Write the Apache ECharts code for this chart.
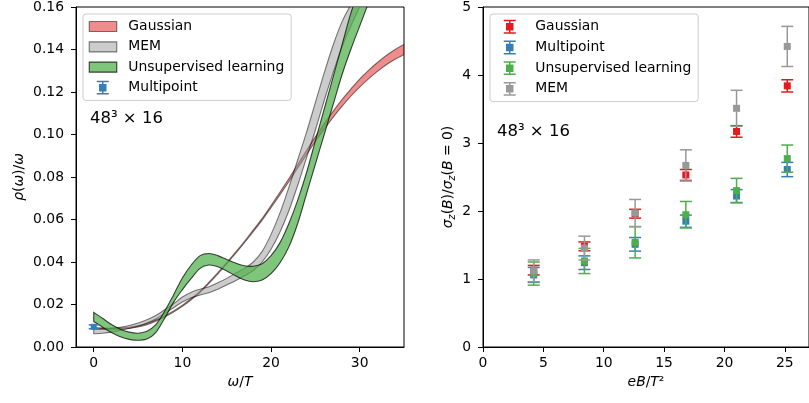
<!DOCTYPE html>
<html><head><meta charset="utf-8">
<script src="https://cdn.jsdelivr.net/npm/echarts@6/dist/echarts.min.js"></script>
<style>html,body{margin:0;padding:0;background:#fff}#c{width:809px;height:403px}</style>
</head><body><div id="c"></div>
<script>
// ---------- Left panel data: spectral function bands ----------
const omega = [0,1,2,3,4,5,6,7,8,9,10,11,12,13,14,15,16,17,18,19,20,21,22,23,24,25,26,27,28,29,30,31,32,33,34,35];
const gaussLo = [0.0085,0.0084,0.0083,0.0084,0.0087,0.0094,0.0105,0.0121,0.0141,0.0164,0.0191,0.0222,0.0257,0.0299,0.0344,0.0391,0.0440,0.0491,0.0543,0.0597,0.0656,0.0716,0.0778,0.0842,0.0905,0.0967,0.1025,0.1081,0.1132,0.1180,0.1223,0.1262,0.1297,0.1328,0.1354,0.1376];
const gaussHi = [0.0091,0.0090,0.0089,0.0090,0.0093,0.0100,0.0111,0.0127,0.0147,0.0170,0.0197,0.0228,0.0263,0.0305,0.0350,0.0397,0.0446,0.0497,0.0551,0.0605,0.0666,0.0728,0.0792,0.0858,0.0925,0.0989,0.1051,0.1109,0.1164,0.1214,0.1261,0.1302,0.1339,0.1372,0.1400,0.1424];
const memLo = [0.0062,0.0065,0.0070,0.0078,0.0088,0.0099,0.0113,0.0132,0.0158,0.0185,0.0212,0.0232,0.0245,0.0255,0.0272,0.0292,0.0312,0.0335,0.0360,0.0400,0.0460,0.0540,0.0640,0.0760,0.0890,0.1020,0.1160,0.1290,0.1410,0.1510,0.1600,0.1680,0.1760,0.1840,0.1920,0.2000];
const memHi = [0.0085,0.0085,0.0088,0.0093,0.0101,0.0113,0.0128,0.0148,0.0175,0.0203,0.0235,0.0258,0.0272,0.0284,0.0302,0.0323,0.0347,0.0370,0.0400,0.0450,0.0530,0.0630,0.0750,0.0880,0.1010,0.1150,0.1290,0.1420,0.1530,0.1610,0.1690,0.1770,0.1850,0.1930,0.2010,0.2090];
const unsupLo = [0.0120,0.0093,0.0068,0.0048,0.0036,0.0032,0.0038,0.0068,0.0135,0.0210,0.0270,0.0323,0.0370,0.0386,0.0378,0.0358,0.0335,0.0315,0.0307,0.0315,0.0345,0.0395,0.0470,0.0580,0.0720,0.0860,0.1000,0.1140,0.1280,0.1400,0.1510,0.1620,0.1730,0.1840,0.1950,0.2060];
const unsupHi = [0.0163,0.0135,0.0106,0.0084,0.0070,0.0065,0.0074,0.0105,0.0168,0.0245,0.0325,0.0386,0.0430,0.0440,0.0430,0.0412,0.0395,0.0382,0.0380,0.0392,0.0430,0.0490,0.0580,0.0690,0.0820,0.0970,0.1120,0.1270,0.1420,0.1570,0.1690,0.1800,0.1910,0.2020,0.2130,0.2240];
const multiOmega = [0];
const multiRho = [0.0095];
const multiRhoErr = [0.0009];
const leftXTicks = [0, 10, 20, 30];

// ---------- Right panel data: sigma_z(B)/sigma_z(0) ----------
const eBT2 = [4.2, 8.4, 12.6, 16.8, 21.0, 25.2];
const gaussSig = [1.13, 1.48, 1.96, 2.53, 3.17, 3.84];
const gaussErr = [0.07, 0.065, 0.065, 0.08, 0.085, 0.09];
const multiSig = [1.06, 1.24, 1.51, 1.85, 2.22, 2.61];
const multiErr = [0.11, 0.10, 0.10, 0.09, 0.095, 0.105];
const unsupSig = [1.08, 1.265, 1.54, 1.945, 2.30, 2.77];
const unsupErr = [0.17, 0.185, 0.23, 0.195, 0.18, 0.20];
const memSig = [1.12, 1.455, 1.97, 2.67, 3.51, 4.42];
const memErr = [0.16, 0.175, 0.20, 0.23, 0.265, 0.295];
const rightXTicks = [0, 5, 10, 15, 20, 25];

// ---------- styling ----------
const FONT = 'DejaVu Sans';
const FS = 13.9;
const RED = '#e41a1c', BLUE = '#377eb8', GREEN = '#4daf4a', GREY = '#999999';

const chart = echarts.init(document.getElementById('c'), null, {renderer: 'canvas'});

function errRender(color, capW, msize) {
  return function (params, api) {
    const x = api.value(0), y = api.value(1), e = api.value(2);
    const c = api.coord([x, y]);
    const t = api.coord([x, y + e]);
    const b = api.coord([x, y - e]);
    const h = capW / 2;
    const st = {stroke: color, lineWidth: 1.5};
    return {type: 'group', children: [
      {type: 'line', shape: {x1: c[0], y1: t[1], x2: c[0], y2: b[1]}, style: st},
      {type: 'line', shape: {x1: c[0] - h, y1: t[1], x2: c[0] + h, y2: t[1]}, style: st},
      {type: 'line', shape: {x1: c[0] - h, y1: b[1], x2: c[0] + h, y2: b[1]}, style: st},
      {type: 'rect', shape: {x: c[0] - msize / 2, y: c[1] - msize / 2, width: msize, height: msize}, style: {fill: color}}
    ]};
  };
}

function errSeries(name, xs, ys, es, color, xi, z, capW, msize) {
  return {
    type: 'custom', name: name, xAxisIndex: xi, yAxisIndex: xi, z: z,
    renderItem: errRender(color, capW, msize),
    encode: {x: 0, y: 1},
    data: xs.map((x, i) => [x, ys[i], es[i]]),
    silent: true
  };
}

// Catmull-Rom spline through pixel points (converted to cubic Bezier commands)
function curveCmds(p) {
  let d = '';
  const n = p.length;
  for (let i = 0; i < n - 1; i++) {
    const p0 = p[Math.max(i - 1, 0)], p1 = p[i], p2 = p[i + 1], p3 = p[Math.min(i + 2, n - 1)];
    const c1x = p1[0] + (p2[0] - p0[0]) / 6, c1y = p1[1] + (p2[1] - p0[1]) / 6;
    const c2x = p2[0] - (p3[0] - p1[0]) / 6, c2y = p2[1] - (p3[1] - p1[1]) / 6;
    d += ' C' + c1x.toFixed(2) + ',' + c1y.toFixed(2) + ' ' + c2x.toFixed(2) + ',' + c2y.toFixed(2) + ' ' + p2[0].toFixed(2) + ',' + p2[1].toFixed(2);
  }
  return d;
}

function bandSeries(name, lo, hi, fill, edge, z) {
  return {
    type: 'custom', name: name, xAxisIndex: 0, yAxisIndex: 0, z: z, clip: true, silent: true,
    encode: {x: 0, y: [1, 2]},
    data: omega.map((w, i) => [w, lo[i], hi[i]]),
    renderItem: function (params, api) {
      if (params.dataIndex !== 0) return null;
      const up = omega.map((w, i) => api.coord([w, hi[i]]));
      const dn = omega.map((w, i) => api.coord([w, lo[i]])).reverse();
      const d = 'M' + up[0][0].toFixed(2) + ',' + up[0][1].toFixed(2) + curveCmds(up) +
        ' L' + dn[0][0].toFixed(2) + ',' + dn[0][1].toFixed(2) + curveCmds(dn) + ' Z';
      return {type: 'path', shape: {pathData: d}, style: {fill: fill, stroke: edge, lineWidth: 1.1}};
    }
  };
}

// legend icons: invisible corner points set the icon box to 34.6 x 14
const rectIcon = 'path://M0,0 L0,0 M34.6,14 L34.6,14 M0.5,2 L28,2 L28,12 L0.5,12 Z';
const errIcon = 'path://M0,0 L0,0 M34.6,14 L34.6,14 M8,0.8 L20,0.8 M14,0.8 L14,13.2 M8,13.2 L20,13.2 M11,4 L17,4 L17,10 L11,10 Z';

function legendBase(left) {
  return {
    left: left, top: 14, orient: 'vertical',
    itemWidth: 34.6, itemHeight: 14, itemGap: 5.2,
    symbolKeepAspect: false,
    padding: [5, 7, 5, 5],
    backgroundColor: 'rgba(255,255,255,0.8)',
    borderColor: '#cccccc', borderWidth: 1, borderRadius: 3,
    selectedMode: false,
    textStyle: {fontFamily: FONT, fontSize: FS, color: '#000'}
  };
}

const axisCommon = {
  axisLine: {show: true, onZero: false, lineStyle: {color: '#000', width: 1}},
  axisTick: {show: true, length: 5, lineStyle: {color: '#000', width: 1}},
  splitLine: {show: false},
  axisLabel: {fontFamily: FONT, fontSize: FS, color: '#000'},
  nameTextStyle: {fontFamily: FONT, fontSize: FS, color: '#000'}
};

const richName = {
  i: {fontFamily: FONT, fontSize: FS, fontStyle: 'italic', color: '#000'},
  n: {fontFamily: FONT, fontSize: FS, color: '#000'},
  s: {fontFamily: FONT, fontSize: 9.7, fontStyle: 'italic', color: '#000', padding: [7, 0, 0, 0]}
};

const option = {
  animation: false,
  backgroundColor: '#fff',
  grid: [
    {left: 76, top: 7, right: 405, bottom: 56, show: true, borderColor: '#000', borderWidth: 1, containLabel: false},
    {left: 483, top: 7, right: -3, bottom: 56, show: true, borderColor: '#000', borderWidth: 1, containLabel: false}
  ],
  xAxis: [
    Object.assign({}, axisCommon, {
      type: 'value', gridIndex: 0, min: -2, max: 35,
      axisTick: Object.assign({}, axisCommon.axisTick, {customValues: leftXTicks}),
      axisLabel: Object.assign({}, axisCommon.axisLabel, {customValues: leftXTicks, margin: 9}),
      name: '{i|ω}{n|/}{i|T}', nameLocation: 'middle', nameGap: 28,
      nameTextStyle: {rich: richName}
    }),
    Object.assign({}, axisCommon, {
      type: 'value', gridIndex: 1, min: 0, max: 27,
      axisTick: Object.assign({}, axisCommon.axisTick, {customValues: rightXTicks}),
      axisLabel: Object.assign({}, axisCommon.axisLabel, {customValues: rightXTicks, margin: 9}),
      name: '{i|eB}{n|/}{i|T}{n|²}', nameLocation: 'middle', nameGap: 28,
      nameTextStyle: {rich: richName}
    })
  ],
  yAxis: [
    Object.assign({}, axisCommon, {
      type: 'value', gridIndex: 0, min: 0, max: 0.16, interval: 0.02,
      axisLabel: Object.assign({}, axisCommon.axisLabel, {margin: 12, formatter: v => v.toFixed(2)}),
      name: '{i|ρ}{n|(}{i|ω}{n|)/}{i|ω}', nameLocation: 'middle', nameGap: 50,
      nameTextStyle: {rich: richName}
    }),
    Object.assign({}, axisCommon, {
      type: 'value', gridIndex: 1, min: 0, max: 5, interval: 1,
      axisLabel: Object.assign({}, axisCommon.axisLabel, {margin: 12}),
      name: '{i|σ}{s|z}{n|(}{i|B}{n|)/}{i|σ}{s|z}{n|(}{i|B}{n| = 0)}', nameLocation: 'middle', nameGap: 26,
      nameTextStyle: {rich: richName}
    })
  ],
  legend: [
    Object.assign(legendBase(83), {
      data: [
        {name: 'Gaussian', icon: rectIcon, itemStyle: {color: 'rgba(228,26,28,0.5)', borderColor: 'rgba(0,0,0,0.5)', borderWidth: 1.1}},
        {name: 'MEM', icon: rectIcon, itemStyle: {color: 'rgba(153,153,153,0.5)', borderColor: 'rgba(0,0,0,0.5)', borderWidth: 1.1}},
        {name: 'Unsupervised learning', icon: rectIcon, itemStyle: {color: 'rgba(77,175,74,0.72)', borderColor: 'rgba(0,0,0,0.72)', borderWidth: 1.1}},
        {name: 'Multipoint', icon: errIcon, itemStyle: {color: BLUE, borderColor: BLUE, borderWidth: 1.5}}
      ]
    }),
    Object.assign(legendBase(490), {
      data: [
        {name: 'Gaussian', icon: errIcon, itemStyle: {color: RED, borderColor: RED, borderWidth: 1.5}},
        {name: 'Multipoint', icon: errIcon, itemStyle: {color: BLUE, borderColor: BLUE, borderWidth: 1.5}},
        {name: 'Unsupervised learning', icon: errIcon, itemStyle: {color: GREEN, borderColor: GREEN, borderWidth: 1.5}},
        {name: 'MEM', icon: errIcon, itemStyle: {color: GREY, borderColor: GREY, borderWidth: 1.5}}
      ]
    })
  ],
  graphic: [
    {type: 'text', left: 90, top: 110, style: {text: '48³ × 16', fontFamily: FONT, fontSize: 16.5, fill: '#000'}},
    {type: 'text', left: 497, top: 123, style: {text: '48³ × 16', fontFamily: FONT, fontSize: 16.5, fill: '#000'}}
  ],
  series: [
    errSeries('Gaussian', eBT2, gaussSig, gaussErr, RED, 1, 10, 12, 7),
    errSeries('Multipoint', eBT2, multiSig, multiErr, BLUE, 1, 11, 12, 7),
    errSeries('Unsupervised learning', eBT2, unsupSig, unsupErr, GREEN, 1, 12, 12, 7),
    errSeries('MEM', eBT2, memSig, memErr, GREY, 1, 13, 12, 7),
    bandSeries('Gaussian', gaussLo, gaussHi, 'rgba(228,26,28,0.5)', 'rgba(0,0,0,0.5)', 2),
    bandSeries('MEM', memLo, memHi, 'rgba(153,153,153,0.5)', 'rgba(0,0,0,0.5)', 3),
    bandSeries('Unsupervised learning', unsupLo, unsupHi, 'rgba(77,175,74,0.72)', 'rgba(0,0,0,0.72)', 4),
    errSeries('Multipoint', multiOmega, multiRho, multiRhoErr, BLUE, 0, 6, 10, 6)
  ]
};
chart.setOption(option);
</script>
</body></html>
